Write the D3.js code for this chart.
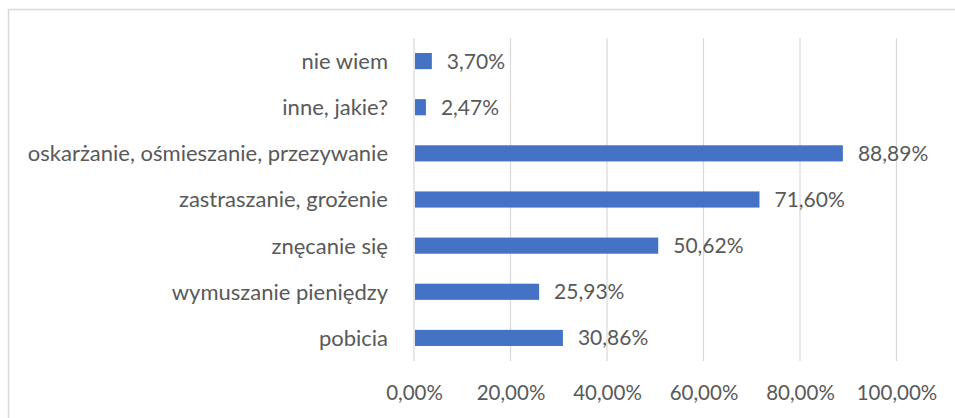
<!DOCTYPE html>
<html>
<head>
<meta charset="utf-8">
<script src="https://cdn.jsdelivr.net/npm/d3@7"></script>
<style>
  body { margin: 0; background: #fff; }
  svg text { font-family: Lato, "Open Sans", sans-serif; fill: #595959; }
</style>
</head>
<body>
<svg id="chart" width="955" height="418"></svg>
<script>
var categories = ['nie wiem', 'inne, jakie?', 'oskarżanie, ośmieszanie, przezywanie',
  'zastraszanie, grożenie', 'znęcanie się', 'wymuszanie pieniędzy', 'pobicia'];
var values = [3.70, 2.47, 88.89, 71.60, 50.62, 25.93, 30.86];
var tickValues = [0, 20, 40, 60, 80, 100];

var fmt = function(v) { return v.toFixed(2).replace('.', ',') + '%'; };

var svg = d3.select('#chart');

// chart border
svg.append('rect')
  .attr('x', 8.5).attr('y', 9.5)
  .attr('width', 960).attr('height', 420)
  .attr('fill', 'none').attr('stroke', '#d9d9d9').attr('stroke-width', 1.5);

var x = d3.scaleLinear().domain([0, 100]).range([414, 896.5]);
var y = d3.scaleBand().domain(categories).range([38, 361]).paddingInner(0.65).paddingOuter(0.325);

// gridlines
svg.append('g').selectAll('line')
  .data(tickValues).enter().append('line')
  .attr('x1', function(d) { return x(d); })
  .attr('x2', function(d) { return x(d); })
  .attr('y1', 38).attr('y2', 361)
  .attr('stroke', '#d9d9d9').attr('stroke-width', 1.2);

// bars
svg.append('g').selectAll('rect')
  .data(values).enter().append('rect')
  .attr('x', x(0) + 1)
  .attr('y', function(d, i) { return y(categories[i]); })
  .attr('width', function(d) { return x(d) - x(0) - 1; })
  .attr('height', y.bandwidth())
  .attr('fill', '#4472c4');

// value labels
svg.append('g').selectAll('text')
  .data(values).enter().append('text')
  .attr('x', function(d) { return x(d) + 15; })
  .attr('y', function(d, i) { return y(categories[i]) + y.bandwidth() / 2; })
  .attr('dy', '0.36em')
  .attr('font-size', 21)
  .text(fmt);

// category axis
var yAxis = svg.append('g')
  .attr('transform', 'translate(388,0)')
  .call(d3.axisLeft(y).tickSize(0).tickPadding(0));
yAxis.select('.domain').remove();
yAxis.selectAll('text')
  .attr('font-size', 22)
  .attr('dy', '0.36em')
  .attr('font-family', null)
  .attr('fill', null);

// value axis
var xAxis = svg.append('g')
  .attr('transform', 'translate(0,400)')
  .call(d3.axisBottom(x).tickValues(tickValues).tickSize(0).tickPadding(0)
    .tickFormat(fmt));
xAxis.select('.domain').remove();
xAxis.selectAll('text')
  .attr('font-size', 20.5)
  .attr('dy', 0)
  .attr('font-family', null)
  .attr('fill', null);
</script>
</body>
</html>
